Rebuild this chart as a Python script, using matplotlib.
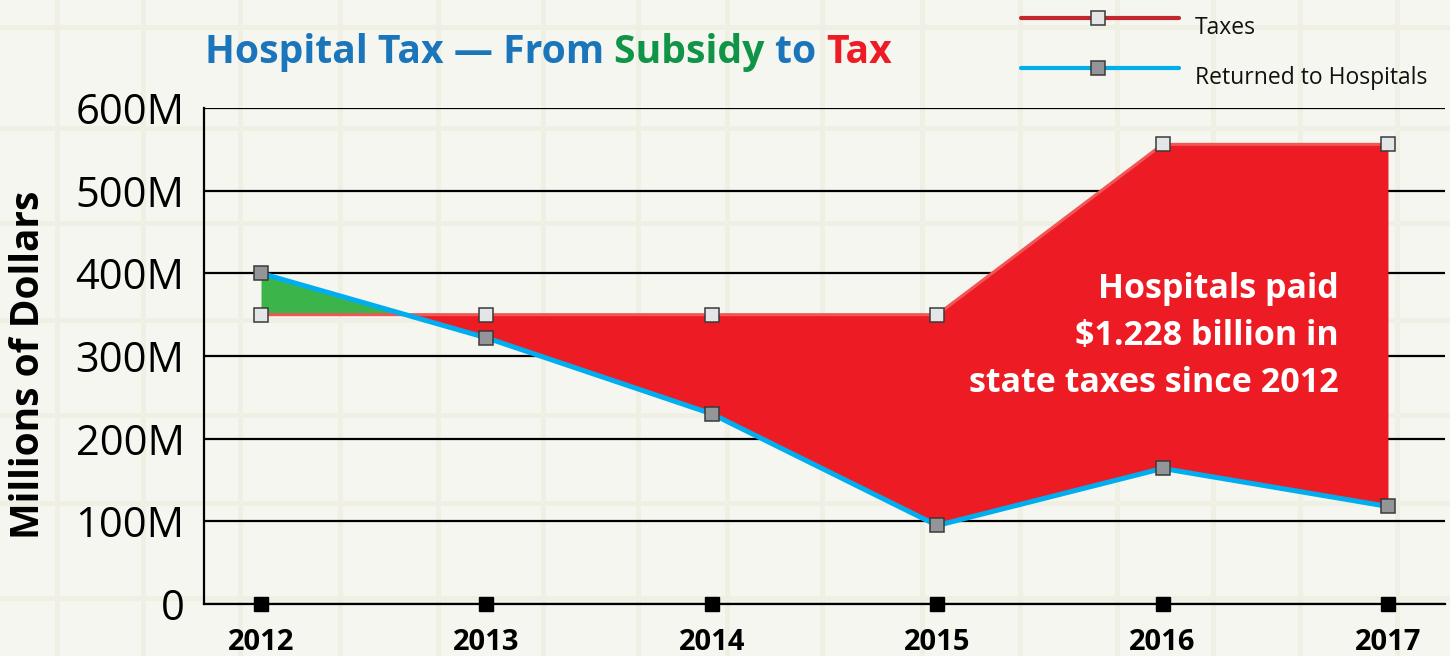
import matplotlib
matplotlib.use("Agg")
import matplotlib.pyplot as plt
from matplotlib.lines import Line2D
import numpy as np

# ---- data ----
years = [2012, 2013, 2014, 2015, 2016, 2017]
taxes = [350, 350, 350, 350, 556, 556]          # millions of dollars
returned = [400, 322, 230, 95, 164, 118]         # millions of dollars
ytick_vals = [0, 100, 200, 300, 400, 500, 600]
ytick_labels = ["0", "100M", "200M", "300M", "400M", "500M", "600M"]
xtick_labels = ["2012", "2013", "2014", "2015", "2016", "2017"]

plt.rcParams['font.family'] = ['Open Sans', 'DejaVu Sans']

W, H = 1450, 656
fig = plt.figure(figsize=(W / 100, H / 100), dpi=100)
BG = "#f6f6f0"
fig.patch.set_facecolor(BG)

# background tile bands (decoration)
band_c = "#efefe4"
for xv in [57, 143, 240, 340, 438, 543, 638, 727, 822, 922, 1020, 1117, 1213, 1300, 1397]:
    fig.add_artist(Line2D([xv / W, xv / W], [0, 1], transform=fig.transFigure,
                          color=band_c, lw=3.6, zorder=-2))
for yv in [27, 128, 223, 320, 415, 503, 598]:
    fig.add_artist(Line2D([0, 1], [1 - yv / H, 1 - yv / H], transform=fig.transFigure,
                          color=band_c, lw=3.6, zorder=-2))

ax = fig.add_axes([204 / W, (H - 604) / H, (1445 - 204) / W, (604 - 108) / H])
ax.patch.set_visible(False)

x = np.array(years, dtype=float)
t = np.array(taxes, dtype=float)
r = np.array(returned, dtype=float)

RED = "#ed1c24"
GREEN = "#3bb54a"
BLUE = "#00aeef"

ax.fill_between(x, t, r, where=t >= r, interpolate=True, color=RED, lw=0, zorder=2)
ax.fill_between(x, t, r, where=r >= t, interpolate=True, color=GREEN, lw=0, zorder=2)
ax.plot(x, t, color="#f15555", lw=2.2, zorder=3, solid_capstyle='butt')
ax.plot(x, r, color=BLUE, lw=3.6, zorder=4)
ax.plot(x, t, 's', ms=10, mfc="#e4e5e7", mec="#3a3a3a", mew=1.1, zorder=5, clip_on=False)
ax.plot(x, r, 's', ms=10, mfc="#939598", mec="#3a3a3a", mew=1.1, zorder=5, clip_on=False)
ax.plot(x, [0] * len(x), 's', ms=9.5, color="black", zorder=6, clip_on=False)

ax.set_xlim(2011.747, 2017.253)
ax.set_ylim(0, 600)
ax.set_yticks(ytick_vals)
ax.set_yticklabels(ytick_labels, fontsize=30)
ax.set_xticks(years)
ax.set_xticklabels(xtick_labels, fontsize=21, fontweight='bold')
ax.tick_params(axis='both', length=0)
ax.tick_params(axis='y', pad=14)
ax.tick_params(axis='x', pad=17)

ax.set_axisbelow(True)
ax.yaxis.grid(True, color="black", lw=1.6)
for s in ['top', 'right']:
    ax.spines[s].set_visible(False)
for s in ['left', 'bottom']:
    ax.spines[s].set_linewidth(1.6)

ax.set_ylabel("Millions of Dollars", fontsize=28, fontweight='bold')
ax.yaxis.set_label_coords(-0.126, 0.482)

# annotation
ax.text(2016.78, 256, "Hospitals paid\n$1.228 billion in\nstate taxes since 2012",
        color="white", fontsize=24.5, fontweight='bold', ha='right', va='baseline',
        multialignment='right', linespacing=1.5, zorder=7)

# title in colored pieces
pieces = [("Hospital Tax \u2014 From ", "#1b75bb"), ("Subsidy ", "#0f9448"),
          ("to ", "#1b75bb"), ("Tax", RED)]
fig.canvas.draw()
renderer = fig.canvas.get_renderer()
xpos = 205
for txt, col in pieces:
    tt = fig.text(xpos / W, 1 - 63 / H, txt, color=col, fontsize=28.2, fontweight='bold',
                  ha='left', va='baseline')
    bb = tt.get_window_extent(renderer=renderer)
    xpos += bb.width

# legend (manual)
leg_items = [("Taxes", "#c1272d", "#e4e5e7", 18, 28), ("Returned to Hospitals", BLUE, "#939598", 68, 78)]
for label, lc, mc, ly, ty in leg_items:
    fig.add_artist(Line2D([1021 / W, 1179 / W], [1 - ly / H, 1 - ly / H], transform=fig.transFigure,
                          color=lc, lw=3, solid_capstyle='round'))
    fig.add_artist(Line2D([1098 / W], [1 - ly / H], transform=fig.transFigure, marker='s', ms=10,
                          mfc=mc, mec="#3a3a3a", mew=1.1, lw=0))
    fig.text(1195 / W, 1 - ty / H, label, fontsize=16.5, color="#111111", ha='left', va='center')

fig.savefig("out.png", dpi=100, facecolor=BG)
